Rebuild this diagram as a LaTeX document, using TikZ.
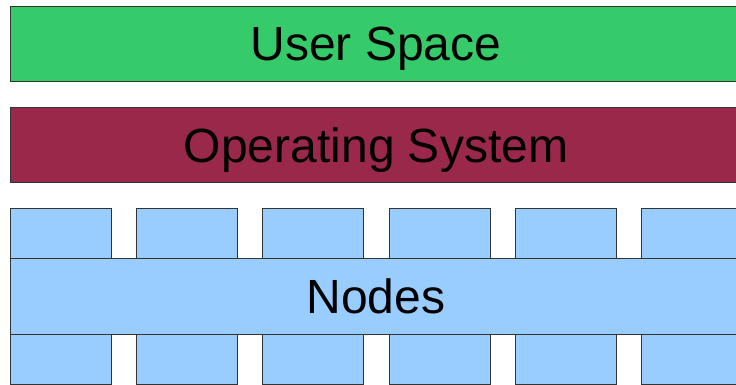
\documentclass[tikz,border=0pt]{standalone}
\usepackage{fontspec}
\setmainfont{Liberation Sans}
\usepackage{tikz}
\usetikzlibrary{positioning}

\definecolor{userGreen}{RGB}{54,203,106}
\definecolor{osRed}{RGB}{153,40,74}
\definecolor{nodeBlue}{RGB}{153,204,255}

\tikzset{
  layer/.style={draw=black!80,line width=0.8pt,rectangle,minimum width=732pt,minimum height=75.5pt,inner sep=0pt,text depth=0pt,font=\fontsize{48}{50}\selectfont},
  cpu/.style={draw=black!80,line width=0.8pt,rectangle,fill=nodeBlue,minimum width=101pt,minimum height=50pt,inner sep=0pt}
}

\begin{document}
\begin{tikzpicture}[x=1pt,y=-1pt]
    \useasboundingbox (0,0) rectangle (736,384);
    \clip (0,0) rectangle (736,384);
    \fill[white] (0,0) rectangle (736,384);
    \node[layer,fill=userGreen] (user) at (376,43.75) {User Space};
    \node[layer,fill=osRed] (os) at (376,145) {Operating System};
    % the small boxes above and below the node bar
    \foreach \i in {0,...,5} {
        \node[cpu] (top\i) at (60.5+126.33*\i,233.3) {};
        \node[cpu] (bot\i) at (60.5+126.33*\i,359) {};
    }
    \node[layer,fill=nodeBlue,minimum height=75.7pt] (nodes) at (376,296.2) {Nodes};
\end{tikzpicture}
\end{document}
